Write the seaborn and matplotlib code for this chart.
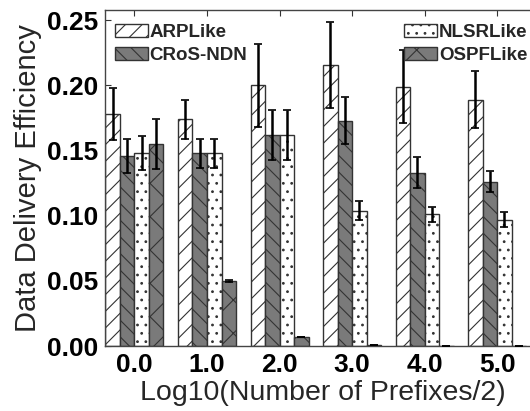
import numpy as np
import pandas as pd
import seaborn as sns
import matplotlib.pyplot as plt

# values
groups = ['0.0', '1.0', '2.0', '3.0', '4.0', '5.0']
schemes = ['ARPLike', 'CRoS-NDN', 'NLSRLike', 'OSPFLike']
arp = [0.178, 0.174, 0.200, 0.216, 0.199, 0.189]
arp_err = [0.020, 0.015, 0.032, 0.033, 0.028, 0.022]
cros = [0.146, 0.148, 0.162, 0.173, 0.133, 0.126]
cros_err = [0.013, 0.011, 0.019, 0.018, 0.012, 0.008]
nlsr = [0.148, 0.148, 0.162, 0.104, 0.101, 0.097]
nlsr_err = [0.013, 0.011, 0.019, 0.007, 0.006, 0.006]
ospf = [0.155, 0.050, 0.007, 0.0005, 0.0, 0.0]
ospf_err = [0.019, 0.001, 0.0, 0.0, 0.0, 0.0]

vals = [arp, cros, nlsr, ospf]
errs = [arp_err, cros_err, nlsr_err, ospf_err]
df = pd.DataFrame({
    'group': groups * 4,
    'scheme': np.repeat(schemes, len(groups)),
    'eff': np.concatenate(vals),
})

sns.set_style('ticks')
plt.rcParams['font.family'] = ['Liberation Sans', 'DejaVu Sans']
plt.rcParams['hatch.linewidth'] = 0.8
plt.rcParams['hatch.color'] = '#333333'

gray = '#7a7a7a'
palette = {'ARPLike': 'white', 'CRoS-NDN': gray, 'NLSRLike': 'white', 'OSPFLike': gray}
hatches = ['//', '\\\\', '..', 'x']

fig = plt.figure(figsize=(5.3, 4.11), dpi=100)
# the right spine of the original sits just outside the picture
ax = fig.add_axes([0.199, 0.158, 0.821, 0.818])

sns.barplot(data=df, x='group', y='eff', hue='scheme', order=groups, hue_order=schemes,
            palette=palette, edgecolor='#333333', linewidth=1, errorbar=None,
            width=0.8, ax=ax)

# hatches and error bars per series
for cont, h, e in zip(ax.containers, hatches, errs):
    xs, ys = [], []
    for bar in cont:
        bar.set_hatch(h)
        xs.append(bar.get_x() + bar.get_width() / 2)
        ys.append(bar.get_height())
    ax.errorbar(xs, ys, yerr=e, fmt='none', ecolor='black', elinewidth=1.8,
                capsize=3, capthick=1.2, zorder=5)

ax.get_legend().remove()
handles = [cont[0] for cont in ax.containers]
leg_kw = dict(frameon=False, prop={'weight': 'bold', 'size': 13.5}, handlelength=1.75,
              handleheight=0.7, handletextpad=0.1, labelspacing=0.3, borderpad=0.0)
leg1 = ax.legend(handles[:2], schemes[:2], loc='upper left',
                 bbox_to_anchor=(0.199, 0.965), bbox_transform=fig.transFigure, **leg_kw)
ax.add_artist(leg1)
ax.legend(handles[2:], schemes[2:], loc='upper right',
          bbox_to_anchor=(1.013, 0.965), bbox_transform=fig.transFigure, **leg_kw)

ax.set_xlim(-0.4, 5.6)
ax.set_ylim(0, 0.258)
ax.set_yticks([0, 0.05, 0.10, 0.15, 0.20, 0.25])
ax.set_yticklabels(['0.00', '0.05', '0.10', '0.15', '0.20', '0.25'])
ax.tick_params(direction='in', length=4, width=0.8, top=True, right=False,
               labelsize=19, colors='#333333', labelcolor='black', pad=5)
for lab in ax.get_xticklabels() + ax.get_yticklabels():
    lab.set_fontweight('bold')
for sp in ax.spines.values():
    sp.set_color('#444444')
    sp.set_linewidth(1)

ax.set_xlabel('Log10(Number of Prefixes/2)', fontsize=20.5, labelpad=2)
ax.set_ylabel('Data Delivery Efficiency', fontsize=21, labelpad=4)

plt.savefig('out.png', dpi=100)
